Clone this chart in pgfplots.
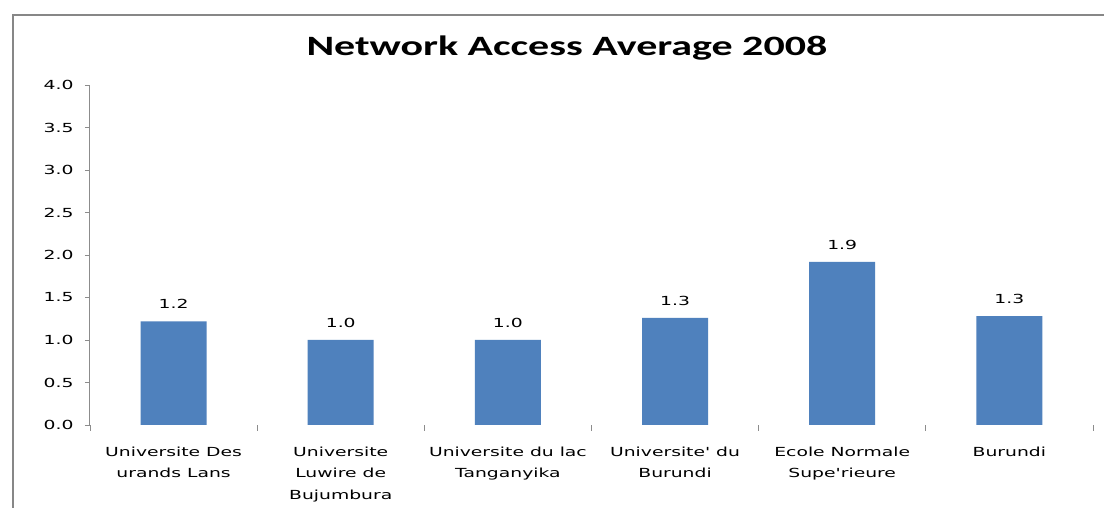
\documentclass[border=0pt]{standalone}
\usepackage{fontspec}
\usepackage{pgfplots}
\pgfplotsset{compat=1.18}
\setmainfont{DejaVu Sans}
\newfontfamily\lbl[FakeStretch=1.5]{DejaVu Sans}
\newfontfamily\ttl[FakeStretch=1.5]{Carlito}
\definecolor{barblue}{HTML}{4F81BD}
\definecolor{framegray}{HTML}{878787}
\definecolor{axgray}{HTML}{8C8C8C}
\begin{document}
\begin{tikzpicture}[x=1pt,y=1pt]
\clip (0,0) rectangle (1104,508);
\fill[white] (0,0) rectangle (1104,508);
\draw[framegray, line width=2.6pt] (13,-20) -- (13,493) -- (1130,493);
\node[anchor=base, inner sep=0pt] at (567,452) {\fontsize{28}{32}\selectfont\ttl\bfseries Network Access Average 2008};
\begin{axis}[
  at={(90pt,83pt)}, anchor=south west,
  scale only axis, width=1003pt, height=340pt,
  xmin=-0.5, xmax=5.5, ymin=0, ymax=4,
  ytick={0,0.5,...,4},
  xtick={0,1,2,3,4,5},
  xticklabels={{Universite Des\\urands Lans},{Universite\\Luwire de\\Bujumbura},{Universite du lac\\Tanganyika},{Universite' du\\Burundi},{Ecole Normale\\Supe'rieure},{Burundi}},
  minor xtick={-0.5,0.5,1.5,2.5,3.5,4.5,5.5},
  major x tick style={draw=none},
  minor x tick style={axgray, line width=0.8pt},
  minor tick length=6pt,
  major tick length=5pt,
  y tick style={axgray, line width=0.8pt},
  tick align=outside,
  axis line style={axgray, line width=1pt},
  axis x line*=bottom,
  axis y line*=left,
  x axis line style={draw=none},
  yticklabel style={/pgf/number format/fixed, /pgf/number format/precision=1, /pgf/number format/fixed zerofill, font=\fontsize{12.5}{14}\selectfont\lbl, xshift=-8pt},
  /pgf/number format/assume math mode=true,
  xticklabel style={font=\fontsize{12.5}{21.5}\selectfont\lbl, align=center, anchor=north, yshift=-13pt},
  nodes near coords,
  nodes near coords style={font=\fontsize{12.5}{14}\selectfont\lbl, /pgf/number format/fixed, /pgf/number format/precision=1, /pgf/number format/fixed zerofill, yshift=9pt},
  enlargelimits=false,
  clip=false,
]
\addplot[ybar, bar width=66pt, fill=barblue, draw=none] coordinates {
  (0,1.22) (1,1.0) (2,1.0) (3,1.26) (4,1.92) (5,1.28)
};
\end{axis}
\end{tikzpicture}
\end{document}
